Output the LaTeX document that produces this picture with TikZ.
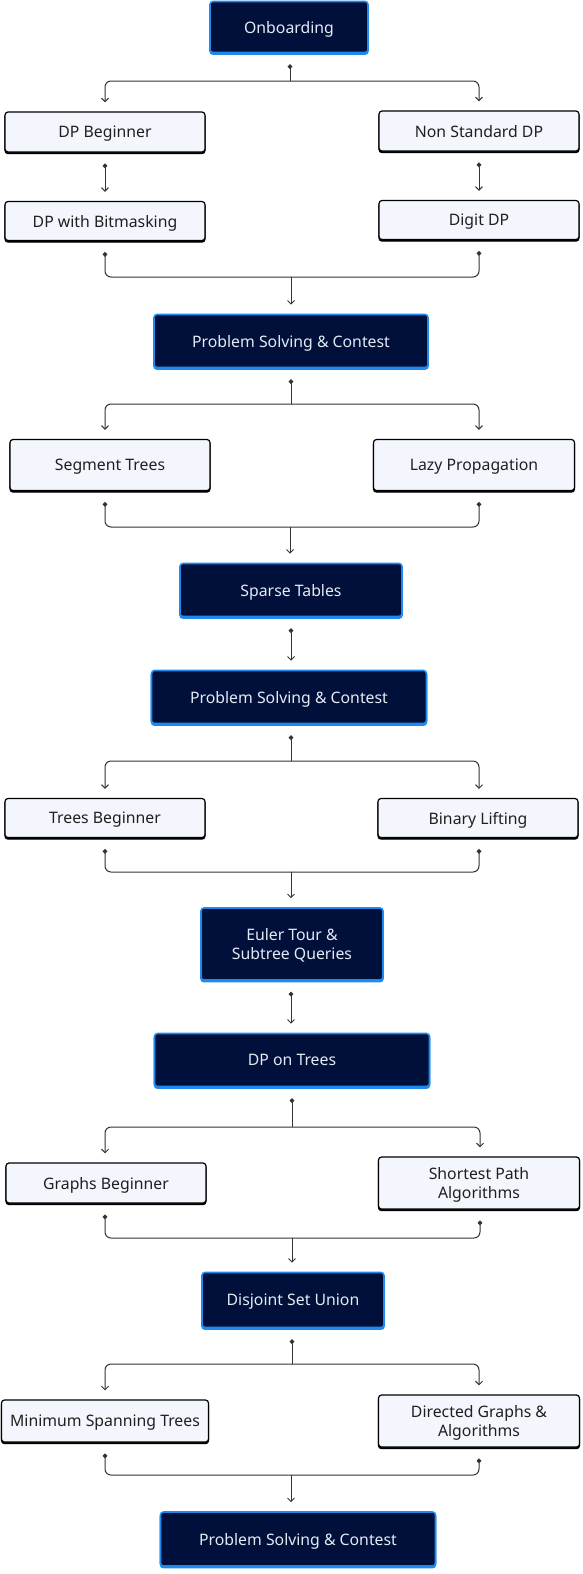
\documentclass[tikz,border=0pt]{standalone}
\usepackage{fontspec}
\setmainfont{Noto Sans}
\usetikzlibrary{arrows.meta}
\definecolor{navy}{HTML}{01103A}
\definecolor{edgeblue}{HTML}{1E8AF0}
\definecolor{paleblue}{HTML}{F3F7FD}
\definecolor{wiregray}{HTML}{333333}
\definecolor{inkwhite}{HTML}{E4EAF4}
\tikzset{
  darkbox/.style={draw=edgeblue, line width=1.6pt, fill=navy, text=inkwhite,
    rounded corners=3pt, inner sep=0pt, align=center, text depth=0pt,
    font=\fontsize{15.8}{19}\selectfont,
    preaction={draw=edgeblue, fill=edgeblue, transform canvas={yshift=-1.6pt}}},
  lightbox/.style={draw=black, line width=1.2pt, fill=paleblue, text=black!88,
    rounded corners=3pt, inner sep=0pt, align=center, text depth=0pt,
    font=\fontsize{15.8}{19}\selectfont,
    preaction={draw=black, fill=black, transform canvas={yshift=-1.6pt}}},
  wire/.style={draw=wiregray, line width=1pt, rounded corners=6pt},
  feedwire/.style={wire, {Circle[length=4.5pt]}-, shorten <=11pt},
  dropwire/.style={wire, -{Straight Barb[length=3.5pt,width=7pt]}, shorten >=9pt},
  linkwire/.style={wire, {Circle[length=4.5pt]}-{Straight Barb[length=3.5pt,width=7pt]},
    shorten <=11pt, shorten >=9pt}
}
\begin{document}
\begin{tikzpicture}[x=1pt,y=-1pt]
  \useasboundingbox (0,0) rectangle (582,1574);
  % nodes, top to bottom
  \node[darkbox, minimum width=158, minimum height=51] (onb) at (289,27) {Onboarding};
  \node[lightbox, minimum width=200, minimum height=40] (dpb) at (105,132) {DP Beginner};
  \node[lightbox, minimum width=200, minimum height=40] (nsd) at (479,131) {Non Standard DP};
  \node[lightbox, minimum width=200, minimum height=39] (bmk) at (105,221) {DP with Bitmasking};
  \node[lightbox, minimum width=200, minimum height=39] (dig) at (479,220) {Digit DP};
  \node[darkbox, minimum width=274, minimum height=53] (psa) at (291,341) {Problem Solving \& Contest};
  \node[lightbox, minimum width=200, minimum height=51] (seg) at (110,465) {Segment Trees};
  \node[lightbox, minimum width=201, minimum height=51] (lazy) at (474,465) {Lazy Propagation};
  \node[darkbox, minimum width=222, minimum height=53] (spt) at (291,590) {Sparse Tables};
  \node[darkbox, minimum width=275, minimum height=53] (psb) at (289,697) {Problem Solving \& Contest};
  \node[lightbox, minimum width=200, minimum height=39] (trb) at (105,818) {Trees Beginner};
  \node[lightbox, minimum width=200, minimum height=39] (bil) at (478,818) {Binary Lifting};
  \node[darkbox, minimum width=182, minimum height=72] (eul) at (292,944) {Euler Tour \&\\Subtree Queries};
  \node[darkbox, minimum width=275, minimum height=53] (dpt) at (292,1060) {DP on Trees};
  \node[lightbox, minimum width=200, minimum height=40] (grb) at (106,1183) {Graphs Beginner};
  \node[lightbox, minimum width=201, minimum height=52] (shp) at (479,1183) {Shortest Path\\Algorithms};
  \node[darkbox, minimum width=182, minimum height=55] (dsu) at (293,1300) {Disjoint Set Union};
  \node[lightbox, minimum width=207, minimum height=42] (mst) at (105,1421) {Minimum Spanning Trees};
  \node[lightbox, minimum width=201, minimum height=52] (dgr) at (479,1421) {Directed Graphs \&\\Algorithms};
  \node[darkbox, minimum width=275, minimum height=54] (psc) at (298,1539) {Problem Solving \& Contest};
  % junctions of the buses
  \coordinate (sa) at (290,81);
  \coordinate (ma) at (291,277);
  \coordinate (sb) at (291,404);
  \coordinate (mb) at (290,527);
  \coordinate (sc) at (291,761);
  \coordinate (mc) at (291,872);
  \coordinate (sd) at (292,1127);
  \coordinate (md) at (292,1238);
  \coordinate (se) at (292,1364);
  \coordinate (me) at (291,1475);
  % DP block
  \draw[feedwire] (onb.south -| sa) -- (sa);
  \draw[dropwire] (sa) -| (dpb.north);
  \draw[dropwire] (sa) -| (nsd.north);
  \draw[linkwire] (dpb.south) -- (bmk.north);
  \draw[linkwire] (nsd.south) -- (dig.north);
  \draw[feedwire] (bmk.south) |- (ma);
  \draw[feedwire] (dig.south) |- (ma);
  \draw[dropwire] (ma) -- (psa.north);
  % range queries
  \draw[feedwire] (psa.south) -- (sb);
  \draw[dropwire] (sb) -| ([xshift=-5pt]seg.north);
  \draw[dropwire] (sb) -| ([xshift=5pt]lazy.north);
  \draw[feedwire] ([xshift=-5pt]seg.south) |- (mb);
  \draw[feedwire] ([xshift=5pt]lazy.south) |- (mb);
  \draw[dropwire] (mb) -- (mb |- spt.north);
  \draw[linkwire] (spt.south) -- (spt.south |- psb.north);
  % trees
  \draw[feedwire] (psb.south -| sc) -- (sc);
  \draw[dropwire] (sc) -| (trb.north);
  \draw[dropwire] (sc) -| ([xshift=1pt]bil.north);
  \draw[feedwire] (trb.south) |- (mc);
  \draw[feedwire] ([xshift=1pt]bil.south) |- (mc);
  \draw[dropwire] (mc) -- (mc |- eul.north);
  \draw[linkwire] (eul.south -| mc) -- (mc |- dpt.north);
  % graphs
  \draw[feedwire] (dpt.south) -- (sd);
  \draw[dropwire] (sd) -| ([xshift=-1pt]grb.north);
  \draw[dropwire] (sd) -| ([xshift=1pt]shp.north);
  \draw[feedwire] ([xshift=-1pt]grb.south) |- (md);
  \draw[feedwire] ([xshift=1pt]shp.south) |- (md);
  \draw[dropwire] (md) -- (md |- dsu.north);
  \draw[feedwire] (dsu.south -| se) -- (se);
  \draw[dropwire] (se) -| (mst.north);
  \draw[dropwire] (se) -| (dgr.north);
  \draw[feedwire] (mst.south) |- (me);
  \draw[feedwire] (dgr.south) |- (me);
  \draw[dropwire] (me) -- (me |- psc.north);
\end{tikzpicture}
\end{document}
